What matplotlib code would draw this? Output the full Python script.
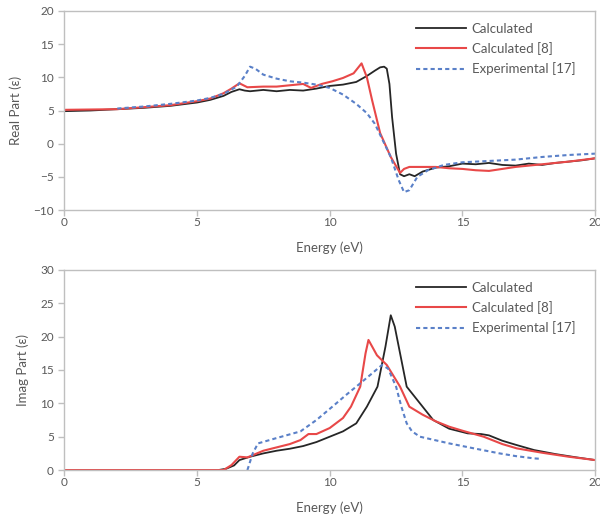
"""Dielectric function (real and imaginary parts) vs photon energy."""
import matplotlib
matplotlib.use("Agg")
import matplotlib.pyplot as plt

plt.rcParams['font.family'] = ['Lato', 'DejaVu Sans']

# Real part, calculated (this work)
calc_real_e = [0, 1, 2, 3, 4, 5, 5.5, 6, 6.3, 6.6, 6.8, 7.0, 7.5, 8.0, 8.5, 9.0,
               9.5, 10.0, 10.5, 11.0, 11.4, 11.7, 11.9, 12.05, 12.15, 12.25, 12.35,
               12.5, 12.65, 12.8, 13.0, 13.2, 13.5, 14.0, 14.5, 15.0, 15.5, 16.0,
               16.5, 17.0, 17.5, 18.0, 18.5, 19.0, 19.5, 20.0]
calc_real = [4.9, 5.0, 5.2, 5.4, 5.7, 6.2, 6.6, 7.2, 7.8, 8.2, 8.0, 7.9, 8.1, 7.9,
             8.1, 8.0, 8.3, 8.7, 8.9, 9.3, 10.2, 11.0, 11.5, 11.6, 11.3, 9.0, 4.0,
             -1.5, -4.6, -4.9, -4.6, -4.9, -4.2, -3.6, -3.4, -3.0, -3.1, -2.9,
             -3.2, -3.3, -3.0, -3.2, -2.9, -2.7, -2.5, -2.2]

# Real part, calculated [8]
ref_real_e = [0, 2, 4, 5, 5.5, 6.0, 6.3, 6.6, 6.9, 7.5, 8.0, 8.5, 9.0, 9.3, 9.7,
              10.1, 10.5, 10.9, 11.2, 11.4, 11.6, 11.9, 12.3, 12.65, 12.8, 13.0,
              13.5, 14.0, 14.5, 15.0, 15.5, 16.0, 16.5, 17.0, 17.5, 18.0, 19.0, 20.0]
ref_real = [5.1, 5.2, 5.8, 6.4, 6.8, 7.6, 8.3, 9.1, 8.5, 8.6, 8.6, 8.8, 9.0, 8.4,
            9.0, 9.4, 9.9, 10.6, 12.1, 10.0, 6.5, 1.6, -2.0, -4.4, -3.8, -3.5,
            -3.5, -3.5, -3.7, -3.8, -4.0, -4.1, -3.8, -3.5, -3.3, -3.1, -2.7, -2.2]

# Real part, experimental [17]
exp_real_e = [2.0, 3.0, 4.0, 5.0, 5.5, 6.0, 6.5, 6.8, 7.0, 7.2, 7.5, 8.0, 8.5, 9.0,
              9.5, 10.0, 10.5, 11.0, 11.4, 11.7, 12.0, 12.3, 12.6, 12.8, 13.0,
              13.3, 13.7, 14.3, 15.0, 16.0, 17.0, 18.0, 19.0, 20.0]
exp_real = [5.3, 5.6, 6.0, 6.5, 6.9, 7.5, 8.6, 10.2, 11.6, 11.3, 10.4, 9.8, 9.4,
            9.2, 8.9, 8.4, 7.4, 6.0, 4.6, 3.0, 0.5, -2.0, -5.5, -7.3, -7.0, -5.0,
            -4.0, -3.2, -2.8, -2.6, -2.4, -2.0, -1.7, -1.5]

# Imaginary part, calculated (this work)
calc_imag_e = [0, 5.8, 6.1, 6.4, 6.6, 7.0, 7.5, 8.0, 8.5, 9.0, 9.5, 10.0, 10.5,
               11.0, 11.4, 11.8, 12.1, 12.3, 12.45, 12.6, 12.9, 13.3, 13.9, 14.5,
               15.2, 15.7, 16.0, 16.5, 17.0, 17.7, 18.5, 19.3, 20.0]
calc_imag = [0, 0, 0.2, 0.7, 1.5, 2.0, 2.5, 2.9, 3.2, 3.6, 4.2, 5.0, 5.8, 7.0,
             9.5, 12.5, 18.5, 23.2, 21.5, 18.5, 12.5, 10.5, 7.5, 6.2, 5.5, 5.4,
             5.2, 4.4, 3.8, 3.0, 2.4, 1.9, 1.5]

# Imaginary part, calculated [8]
ref_imag_e = [0, 6.0, 6.3, 6.6, 6.9, 7.5, 8.0, 8.5, 8.9, 9.2, 9.5, 10.0, 10.5,
              10.8, 11.15, 11.35, 11.46, 11.6, 11.78, 12.15, 12.65, 13.0, 13.5,
              14.0, 14.5, 15.0, 15.8, 16.5, 17.05, 18.0, 19.0, 20.0]
ref_imag = [0, 0, 0.75, 2.0, 1.9, 2.9, 3.4, 3.9, 4.5, 5.4, 5.4, 6.3, 7.8, 9.5,
            12.5, 17.5, 19.5, 18.5, 17.2, 15.75, 12.5, 9.5, 8.3, 7.3, 6.5, 5.9,
            5.0, 3.9, 3.25, 2.6, 2.0, 1.5]

# Imaginary part, experimental [17]
exp_imag_e = [6.9, 7.1, 7.3, 8.0, 8.9, 9.5, 10.1, 10.6, 11.15, 11.6, 11.97, 12.2,
              12.5, 12.7, 12.9, 13.1, 13.4, 14.5, 15.5, 16.4, 17.0, 17.7, 17.9]
exp_imag = [0, 2.5, 4.0, 4.8, 5.8, 7.5, 9.5, 11.2, 13.0, 14.5, 15.75, 15.2, 12.5,
            9.5, 7.0, 5.8, 5.0, 4.0, 3.2, 2.5, 2.1, 1.75, 1.7]

x_ticks = [0, 5, 10, 15, 20]
real_ticks = [-10, -5, 0, 5, 10, 15, 20]
imag_ticks = [0, 5, 10, 15, 20, 25, 30]

BLACK = '#262626'
RED = '#e84848'
BLUE = '#5a80c8'
GRID_GRAY = '#bfbfbf'
TEXT_GRAY = '#595959'

fig = plt.figure(figsize=(6, 5.2), dpi=100)
ax1 = fig.add_axes([0.107, 0.596, 0.885, 0.383])
ax2 = fig.add_axes([0.107, 0.096, 0.885, 0.385])


def style_axes(ax, yticks, ylabel):
    ax.set_xlim(0, 20)
    ax.set_ylim(yticks[0], yticks[-1])
    ax.set_xticks(x_ticks)
    ax.set_yticks(yticks)
    for spine in ax.spines.values():
        spine.set_color(GRID_GRAY)
        spine.set_linewidth(1.0)
    ax.tick_params(axis='both', colors=GRID_GRAY, labelcolor=TEXT_GRAY,
                   labelsize=8.5, length=4, width=1.0, direction='out')
    ax.tick_params(axis='x', pad=1)
    ax.set_xlabel('Energy (eV)', fontsize=9.5, color=TEXT_GRAY, labelpad=10)
    ax.set_ylabel(ylabel, fontsize=9.5, color=TEXT_GRAY, labelpad=8)
    ax.legend(loc='upper right', bbox_to_anchor=(0.985, 1.0), frameon=False,
              fontsize=9.5, handlelength=3.8, handletextpad=0.4,
              labelspacing=0.55, labelcolor=TEXT_GRAY)


ax1.plot(calc_real_e, calc_real, color=BLACK, lw=1.3, label='Calculated')
ax1.plot(ref_real_e, ref_real, color=RED, lw=1.5, label='Calculated [8]')
ax1.plot(exp_real_e, exp_real, color=BLUE, lw=1.5, ls=(0, (2, 1.5)),
         label='Experimental [17]')
style_axes(ax1, real_ticks, 'Real Part (ε)')

ax2.plot(calc_imag_e, calc_imag, color=BLACK, lw=1.3, label='Calculated')
ax2.plot(ref_imag_e, ref_imag, color=RED, lw=1.5, label='Calculated [8]')
ax2.plot(exp_imag_e, exp_imag, color=BLUE, lw=1.5, ls=(0, (2, 1.5)),
         label='Experimental [17]')
style_axes(ax2, imag_ticks, 'Imag Part (ε)')

plt.savefig('out.png', dpi=100)
plt.close()
